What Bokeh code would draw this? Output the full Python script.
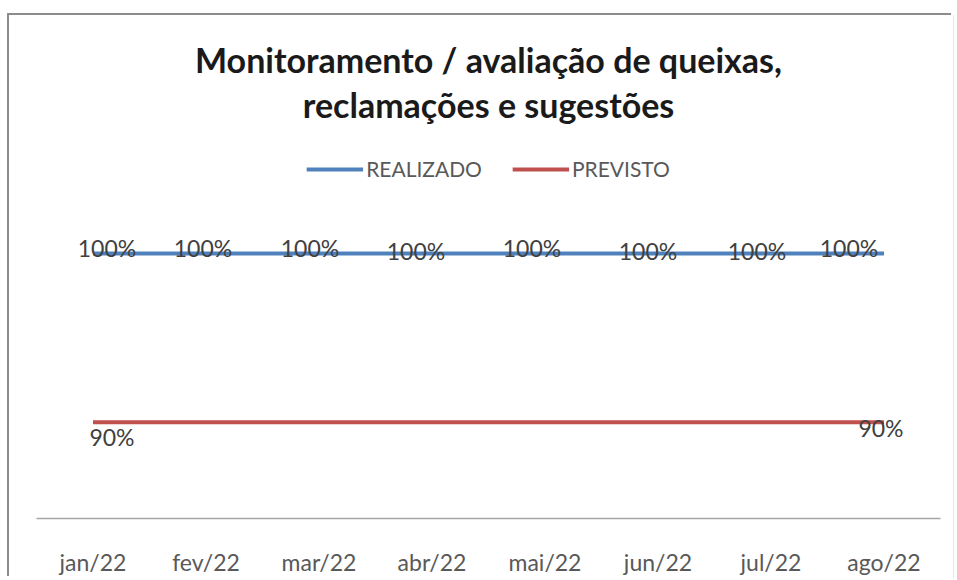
from bokeh.plotting import figure
from bokeh.models import ColumnDataSource, Range1d, Legend, LegendItem, Title
from bokeh.embed import file_html
from bokeh.resources import INLINE
from bokeh.core.properties import value

# ---- data ----
months = ["jan/22", "fev/22", "mar/22", "abr/22", "mai/22", "jun/22", "jul/22", "ago/22"]
realizado = [1.00, 1.00, 1.00, 1.00, 1.00, 1.00, 1.00, 1.00]
previsto = [0.90, 0.90, 0.90, 0.90, 0.90, 0.90, 0.90, 0.90]
title_line1 = "Monitoramento / avaliação de queixas,"
title_line2 = "reclamações e sugestões"

# label placement styling (pixel offsets, as in the reference)
real_dx = [14, -3, -9, -16, -13, -10, -14, -35]
real_dy = [-6, -6, -6, -3, -6, -3, -3, -6]
prev_label_idx = [0, 7]
prev_dx = [19, -3]
prev_dy = [15, 6]

FONT = "Lato"

p = figure(
    x_range=months,
    y_range=Range1d(0.8429, 1.0641),
    width=944, height=563,
    output_backend="svg", toolbar_location=None, title=None,
    min_border_left=27, min_border_right=13, min_border_bottom=57, min_border_top=130,
)
p.styles = {"margin-left": "9px", "margin-top": "15px",
            "box-shadow": "-2px -2px 0 0 #8c8c8c, 1px 0 0 0 #e6e6e6"}
p.outline_line_color = None
p.xgrid.visible = False
p.ygrid.visible = False
p.yaxis.visible = False

ax = p.xaxis[0]
ax.axis_line_color = "#a6a6a6"
ax.axis_line_width = 1.5
ax.major_tick_line_color = None
ax.minor_tick_line_color = None
ax.major_label_text_font = FONT
ax.major_label_text_font_size = "23px"
ax.major_label_text_color = "#595959"
ax.major_label_standoff = 23

src_r = ColumnDataSource(dict(x=months, y=realizado,
                              t=[f"{v*100:.0f}%" for v in realizado],
                              dx=real_dx, dy=real_dy))
src_p = ColumnDataSource(dict(x=months, y=previsto))
src_pl = ColumnDataSource(dict(x=[months[i] for i in prev_label_idx],
                               y=[previsto[i] for i in prev_label_idx],
                               t=[f"{previsto[i]*100:.0f}%" for i in prev_label_idx],
                               dx=prev_dx, dy=prev_dy))

r_real = p.line("x", "y", source=src_r, line_width=4, line_color="#4f81bd")
r_prev = p.line("x", "y", source=src_p, line_width=4, line_color="#c0504d")

p.text("x", "y", text="t", source=src_r, x_offset="dx", y_offset="dy",
       text_align="center", text_baseline="middle",
       text_font=value(FONT), text_font_size="23px", text_color="#404040")
p.text("x", "y", text="t", source=src_pl, x_offset="dx", y_offset="dy",
       text_align="center", text_baseline="middle",
       text_font=value(FONT), text_font_size="23px", text_color="#404040")

legend = Legend(items=[LegendItem(label="REALIZADO", renderers=[r_real]),
                       LegendItem(label="PREVISTO", renderers=[r_prev])],
                orientation="horizontal", location="top_center",
                glyph_width=57, glyph_height=20, label_standoff=3, spacing=30,
                label_text_font=FONT, label_text_font_size="21px",
                label_text_color="#595959", border_line_color=None,
                background_fill_alpha=0, padding=0, margin=11)
p.add_layout(legend, "center")

title = Title(text=title_line1 + "\n" + title_line2, align="center",
              text_align="center",
              text_font=FONT, text_font_size="34px", text_font_style="bold",
              text_color="#1a1a1a", text_line_height=1.1, standoff=40)
p.add_layout(title, "above")

open("out.html", "w").write(file_html(p, INLINE))
